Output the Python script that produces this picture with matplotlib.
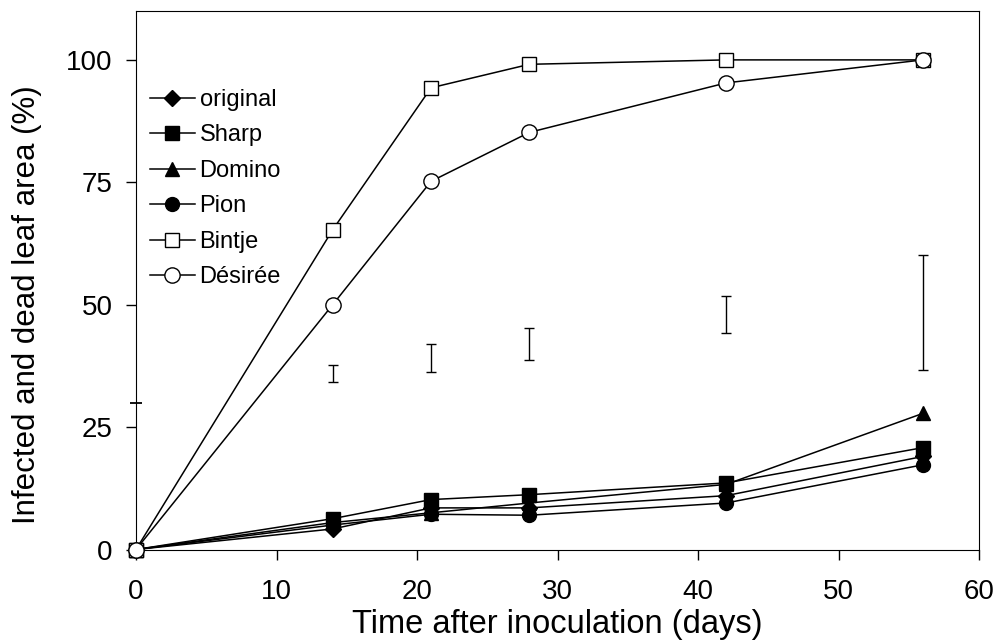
import matplotlib.pyplot as plt

plt.rcParams['font.family'] = ['Liberation Sans', 'DejaVu Sans']

# days after inoculation
days = [0, 14, 21, 28, 42, 56]

# infected and dead leaf area (%)
original = [0, 4.2, 8.5, 8.5, 11.0, 19.0]
sharp = [0, 6.3, 10.2, 11.2, 13.6, 20.8]
domino = [0, 5.5, 7.5, 9.5, 13.3, 27.8]
pion = [0, 5.0, 7.2, 7.0, 9.5, 17.3]
bintje = [0, 65.3, 94.3, 99.1, 100, 100]
desiree = [0, 50.0, 75.2, 85.2, 95.3, 100]

# LSD bars
lsd_days = [14, 21, 28, 42, 56]
lsd_mid = [36.0, 39.1, 42.0, 48.0, 48.4]
lsd_half = [1.7, 2.9, 3.3, 3.8, 11.7]

fig, ax = plt.subplots(figsize=(9.97, 6.43), dpi=100)

series = [
    ("original", original, "D", "black", 8),
    ("Sharp", sharp, "s", "black", 10),
    ("Domino", domino, "^", "black", 10),
    ("Pion", pion, "o", "black", 10),
    ("Bintje", bintje, "s", "white", 10),
    ("Désirée", desiree, "o", "white", 11),
]
for name, vals, mk, fc, ms in series:
    ax.plot(days, vals, color="black", lw=1.1, marker=mk, ms=ms,
            mfc=fc, mec="black", mew=1.0, label=name, clip_on=False, zorder=3)

ax.errorbar(lsd_days, lsd_mid, yerr=lsd_half, fmt="none", ecolor="black",
            elinewidth=1.0, capsize=3.6, capthick=1.0)

# stray cap on the y axis
ax.plot([0], [30], marker="_", ms=8, mew=1.3, color="black", clip_on=False)

ax.set_xlim(0, 60)
ax.set_ylim(0, 110)
ax.set_xticks([0, 10, 20, 30, 40, 50, 60])
ax.set_yticks([0, 25, 50, 75, 100])
ax.tick_params(labelsize=20, direction="out", length=7, width=1,
               top=False, right=False)
ax.tick_params(axis="x", pad=14)
ax.tick_params(axis="y", pad=10)
ax.set_xlabel("Time after inoculation (days)", fontsize=23.5, labelpad=3)
ax.set_ylabel("Infected and dead leaf area (%)", fontsize=22.5)
# label centred on the 0-100 range, as in the original
ax.yaxis.set_label_coords(-0.112, 50 / 110)

ax.legend(loc="upper left", bbox_to_anchor=(0.0166, 0.855), frameon=False,
          fontsize=17, handlelength=1.9, handletextpad=0.2,
          labelspacing=0.57, borderaxespad=0, borderpad=0)

fig.subplots_adjust(left=0.1364, right=0.982, top=0.983, bottom=0.1454)
fig.savefig("out.png", dpi=100)
